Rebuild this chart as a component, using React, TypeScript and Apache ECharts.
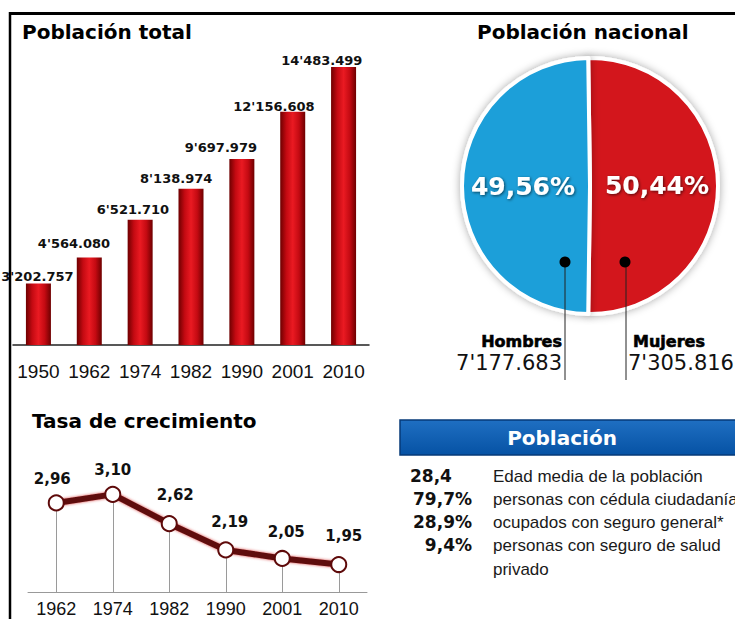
import React, { useEffect, useRef } from 'react';
import * as echarts from 'echarts';

// ---- Data ----
const popYears = ['1950', '1962', '1974', '1982', '1990', '2001', '2010'];
const popValues = [3202757, 4564080, 6521710, 8138974, 9697979, 12156608, 14483499];

const rateYears = ['1962', '1974', '1982', '1990', '2001', '2010'];
const rateValues = [2.96, 3.1, 2.62, 2.19, 2.05, 1.95];

const sexNames = ['Mujeres', 'Hombres'];
const sexValues = [7305816, 7177683];

const tableValues = ['28,4', '79,7%', '28,9%', '9,4%'];
const tableTexts = [
  'Edad media de la población',
  'personas con cédula ciudadanía',
  'ocupados con seguro general*',
  'personas con seguro de salud\nprivado',
];

// ---- Styles / layout (not data) ----
const popLabelOffsets = [[-1, 1.7], [-15.3, -5.7], [-7.2, -1.5], [-14.8, -2], [-21, -3], [-18.8, 3.4], [-21.8, 1.6]];
const rateLabelOffsets = [[-4, 3], [0, 2], [6, -2], [4, -1], [4, 0], [5, -2]];
const sexColors = ['#d3121c', '#1b9fd9'];
const tableAlign = ['left', 'right', 'right', 'right'];

const pad3 = (n: number) => String(n).padStart(3, '0');
const fmtPop = (v: number) => `${Math.floor(v / 1e6)}'${pad3(Math.floor(v / 1000) % 1000)}.${pad3(v % 1000)}`;
const fmtDec = (v: number, d: number) => v.toFixed(d).replace('.', ',');

const txt = (text: string, x: number, y: number, font: string, fill: string, align: string, extra: any = {}) => ({
  type: 'text',
  x,
  y,
  z: 10,
  silent: true,
  style: {
    text,
    font,
    fill,
    align,
    textAlign: align,
    verticalAlign: 'middle',
    textVerticalAlign: 'middle',
    ...extra,
  },
});

export default function App() {
  const ref = useRef<HTMLDivElement>(null);

  useEffect(() => {
    if (!ref.current) return;
    const chart = echarts.init(ref.current, undefined, { renderer: 'svg' });

    const barGradient = new echarts.graphic.LinearGradient(0, 0, 1, 0, [
      { offset: 0, color: '#6e0000' },
      { offset: 0.25, color: '#c40a12' },
      { offset: 0.5, color: '#ea1a22' },
      { offset: 0.75, color: '#c40a12' },
      { offset: 1, color: '#6e0000' },
    ]);

    const titleStyle = { fontFamily: 'DejaVu Sans', fontWeight: 'bold' as const, fontSize: 20, color: '#000' };

    const graphics: any[] = [
      // frame
      { type: 'line', z: 20, shape: { x1: 10, y1: 13.5, x2: 735, y2: 13.5 }, style: { stroke: '#000', lineWidth: 3 } },
      { type: 'line', z: 20, shape: { x1: 10, y1: 12, x2: 10, y2: 619 }, style: { stroke: '#000', lineWidth: 2.5 } },
      // pie leader dots & lines
      { type: 'line', z: 10, shape: { x1: 565, y1: 262, x2: 565, y2: 380 }, style: { stroke: '#222', lineWidth: 1 } },
      { type: 'line', z: 10, shape: { x1: 626, y1: 262, x2: 626, y2: 380 }, style: { stroke: '#222', lineWidth: 1 } },
      { type: 'circle', z: 11, shape: { cx: 565, cy: 262, r: 5.5 }, style: { fill: '#000' } },
      { type: 'circle', z: 11, shape: { cx: 625, cy: 262, r: 5.5 }, style: { fill: '#000' } },
      txt(sexNames[1], 562, 341, 'bold 16px "DejaVu Sans"', '#000', 'right', { stroke: '#000', lineWidth: 0.6 }),
      txt(fmtPop(sexValues[1]), 562, 363, '21px "DejaVu Sans"', '#111', 'right'),
      txt(sexNames[0], 633, 341, 'bold 16px "DejaVu Sans"', '#000', 'left', { stroke: '#000', lineWidth: 0.6 }),
      txt(fmtPop(sexValues[0]), 628, 363, '21px "DejaVu Sans"', '#111', 'left'),
      // table header
      {
        type: 'rect',
        z: 5,
        shape: { x: 400, y: 420, width: 340, height: 35 },
        style: {
          fill: new echarts.graphic.LinearGradient(0, 0, 0, 1, [
            { offset: 0, color: '#1f6fc2' },
            { offset: 1, color: '#0652a4' },
          ]),
          stroke: '#063a78',
          lineWidth: 1.5,
        },
      },
      txt('Población', 562, 438, 'bold 20px "DejaVu Sans"', '#fff', 'center'),
    ];

    const rowY = [476, 499, 522, 545];
    tableValues.forEach((v, i) => {
      const align = tableAlign[i];
      graphics.push(txt(v, align === 'left' ? 410 : 472, rowY[i], 'bold 17px "DejaVu Sans"', '#111', align));
      graphics.push({
        type: 'text',
        x: 493,
        y: rowY[i] - 12,
        z: 10,
        silent: true,
        style: {
          text: tableTexts[i],
          font: '17px "Liberation Sans"',
          fill: '#1a1a1a',
          lineHeight: 24,
          align: 'left',
          textAlign: 'left',
          verticalAlign: 'top',
          textVerticalAlign: 'top',
        },
      });
    });

    chart.setOption({
      animation: false,
      backgroundColor: '#fff',
      title: [
        { text: 'Población total', left: 22, top: 22, padding: 0, textStyle: titleStyle },
        { text: 'Población nacional', left: 477, top: 22, padding: 0, textStyle: titleStyle },
        { text: 'Tasa de crecimiento', left: 32, top: 411, padding: 0, textStyle: titleStyle },
      ],
      grid: [
        { left: 13, right: 366, top: 38, height: 307 },
        { left: 28, right: 368, top: 470, height: 122 },
      ],
      xAxis: [
        {
          gridIndex: 0,
          type: 'category',
          data: popYears,
          offset: 5,
          axisLine: { lineStyle: { color: '#222', width: 1.5 } },
          axisTick: { inside: true, length: 10, lineStyle: { color: '#333', width: 1.2 } },
          axisLabel: { interval: 0, hideOverlap: false, margin: 12, fontSize: 19, fontFamily: 'Liberation Sans', color: '#111' },
        },
        {
          gridIndex: 1,
          type: 'category',
          data: rateYears,
          axisLine: { lineStyle: { color: '#999', width: 1 } },
          axisTick: { show: false },
          axisLabel: { interval: 0, hideOverlap: false, margin: 8, fontSize: 18, fontFamily: 'Liberation Sans', color: '#111' },
        },
      ],
      yAxis: [
        { gridIndex: 0, type: 'value', min: 0, max: 16000000, show: false },
        { gridIndex: 1, type: 'value', min: 1.5, max: 3.5, show: false },
      ],
      series: [
        {
          type: 'bar',
          xAxisIndex: 0,
          yAxisIndex: 0,
          barWidth: 25,
          silent: true,
          itemStyle: { color: barGradient },
          data: popValues.map((v, i) => ({ value: v, label: { offset: popLabelOffsets[i] } })),
          label: {
            show: true,
            position: 'top',
            distance: 2,
            formatter: (p: any) => fmtPop(p.value),
            fontFamily: 'DejaVu Sans',
            fontWeight: 'bold',
            fontSize: 13,
            color: '#111',
          },
        },
        {
          type: 'line',
          xAxisIndex: 1,
          yAxisIndex: 1,
          silent: true,
          z: 3,
          symbol: 'circle',
          symbolSize: 15,
          lineStyle: { color: '#5e0a0a', width: 6, shadowColor: 'rgba(200,20,20,0.7)', shadowBlur: 3 },
          itemStyle: { color: '#fff', borderColor: '#5e0a0a', borderWidth: 2 },
          data: rateValues.map((v, i) => ({ value: v, label: { offset: rateLabelOffsets[i] } })),
          label: {
            show: true,
            position: 'top',
            distance: 10.5,
            formatter: (p: any) => fmtDec(p.value, 2),
            fontFamily: 'DejaVu Sans',
            fontWeight: 'bold',
            fontSize: 15,
            color: '#111',
          },
          markLine: {
            silent: true,
            z: 1,
            symbol: 'none',
            label: { show: false },
            lineStyle: { color: '#9a9a9a', width: 1, type: 'solid' },
            data: rateValues.map((v, i) => [{ coord: [rateYears[i], v] }, { coord: [rateYears[i], 1.5] }]),
          },
        },
        {
          type: 'pie',
          center: [590, 186],
          radius: 128,
          startAngle: 90.8,
          clockwise: true,
          silent: true,
          itemStyle: { borderColor: '#fff', borderWidth: 4, shadowBlur: 8, shadowColor: 'rgba(0,0,0,0.35)' },
          labelLine: { show: false },
          label: {
            show: true,
            position: 'inside',
            formatter: (p: any) => fmtDec(p.percent, 2) + '%',
            fontFamily: 'DejaVu Sans',
            fontWeight: 'bold',
            fontSize: 25,
            color: '#fff',
            textShadowColor: 'rgba(0,0,0,0.6)',
            textShadowBlur: 3,
            textShadowOffsetX: 1,
            textShadowOffsetY: 1,
          },
          data: sexNames.map((n, i) => ({ name: n, value: sexValues[i], itemStyle: { color: sexColors[i] } })),
        },
      ],
      graphic: graphics,
    });

    return () => chart.dispose();
  }, []);

  return (
    <div
      ref={ref}
      style={{ position: 'fixed', left: 0, top: 0, width: 735, height: 619, background: '#fff' }}
    />
  );
}
